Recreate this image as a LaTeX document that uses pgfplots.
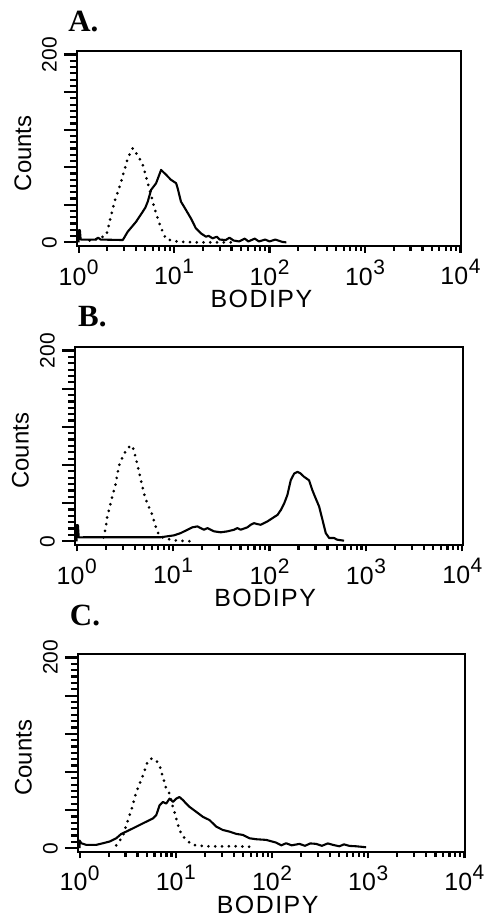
\documentclass[border=0pt]{standalone}
\usepackage{pgfplots}
\pgfplotsset{compat=1.18}
\usepackage{fontspec}
\setmainfont{Liberation Sans}
\newfontfamily\lettf{Liberation Serif}

% decade tick label, text font
\newcommand\pw[1]{10\hspace{0.3pt}\raisebox{5.5pt}{\fontsize{10.5}{10.5}\selectfont#1}}

\pgfplotsset{
  every axis/.append style={scale only axis, anchor=north west,
    xmin=0.955, xmax=10233, ymin=-4, ymax=204, clip=false,
    axis line style={line width=1.1pt},
    tick align=outside, tick style={line width=1.1pt, black}},
  facsy/.style={xtick=\empty, ytick={0,40,...,200}, yticklabels={0,,,,,200},
    minor y tick num=5, ytick pos=left, major tick length=6.5pt, minor tick length=3.5pt,
    yticklabel style={rotate=90, anchor=south, font=\fontsize{10.5}{10.5}\selectfont},
    ylabel={Counts},
    ylabel style={font=\fontsize{12}{12}\selectfont, at={(rel axis cs:-0.14,0.475)}, anchor=center}},
  facsx/.style={ytick=\empty, xtick={1,10,100,1000,10000},
    xticklabels={\pw0,\pw1,\pw2,\pw3,\pw4},
    minor xtick={2,3,4,5,6,7,8,9,20,30,40,50,60,70,80,90,200,300,400,500,600,700,800,900,2000,3000,4000,5000,6000,7000,8000,9000},
    xtick pos=left, major tick length=3.2pt, minor tick length=2.4pt,
    xticklabel style={font=\fontsize{12.5}{12.5}\selectfont},
    xlabel={\addfontfeature{LetterSpace=6}BODIPY},
    xlabel style={font=\fontsize{12.5}{12.5}\selectfont, at={(rel axis cs:0.49,-0.265)}, anchor=center}},
  sol/.style={black, line width=1.05pt, line join=round},
  dot/.style={black, line width=1.5pt, line cap=round, dash pattern=on 0pt off 3.4pt},
}
\tikzset{lett/.style={anchor=base west, inner sep=0pt, font={\lettf\bfseries\fontsize{15.5}{15.5}\selectfont}}}

\begin{document}
\begin{tikzpicture}
\path (0,0) rectangle (241pt,-460pt);

% ---------- A ----------
\begin{semilogxaxis}[facsy, at={(38.5pt,-25.5pt)}, width=193pt, height=98pt]
\end{semilogxaxis}
\begin{semilogxaxis}[facsx, at={(38.5pt,-25.5pt)}, width=193pt, height=98pt,
  xlabel style={at={(rel axis cs:0.48,-0.27)}}]
\node[lett] at (rel axis cs:-0.023,1.097) {A.};
\addplot[sol] coordinates {
  (1,0) (1,13) (1.03,13) (1.05,3) (1.5,3) (1.6,5) (1.7,3) (2.9,2.5)
  (3.27,11.4) (4.0,22) (4.7,32.8) (5.0,37) (5.3,43.4) (5.74,55.9) (6.48,63)
  (7.31,77.2) (8.24,72) (9.29,66.6) (10.5,63) (10.9,57.6) (11.8,43.4)
  (13.3,34.6) (15.0,25.6) (16.9,15) (19.1,9.6) (21.6,6) (23,7) (25.3,4.3)
  (28,6) (30,3) (34.8,2.5) (38,5) (42,2) (48,1) (55,4) (60,1) (70,4)
  (77.6,1) (90,3) (100,1) (115,3) (136,0.5) (150,0) };
\addplot[dot] coordinates {
  (1.3,2) (1.59,3.6) (1.95,7.8) (2.38,43.4) (2.58,54) (2.79,64.8)
  (3.27,89.6) (3.69,100.3) (4.33,89.6) (4.70,82.6) (5.09,70) (5.74,50.6)
  (6.22,36.3) (7.31,15) (8.24,3.6) (10.9,0.7) (18,0) (40,0) };
\end{semilogxaxis}

% ---------- B ----------
\begin{semilogxaxis}[facsy, at={(37.5pt,-174pt)}, width=195pt, height=99.5pt]
\end{semilogxaxis}
\begin{semilogxaxis}[facsx, at={(37.5pt,-174pt)}, width=195pt, height=99.5pt]
\node[lett] at (rel axis cs:0.008,1.101) {B.};
\addplot[sol] coordinates {
  (1,0) (1,17) (1.03,17) (1.05,4) (1.19,4.2) (7.44,4.2) (8.72,5.2)
  (10.2,6.2) (12,8.6) (14.1,12.1) (15.8,14.6) (17.9,15.6) (19.3,13.8)
  (20.9,12.1) (22.7,13.8) (24.5,12.1) (26.6,10.4) (31.2,9.4) (36.6,10.4)
  (42.9,12.1) (46.4,13.8) (50.2,12.1) (58.9,14.6) (63.8,17.3) (69.1,19)
  (74.8,18) (81.1,17.3) (95.1,20.8) (107,24.2) (121,27.7) (131,32.8)
  (142,39.8) (153,48.4) (166,64) (180,71) (195,72.8) (211,71) (228,67.6)
  (257,64) (278,53.6) (301,45) (327,36.4) (354,22.5) (383,8.6) (415,3.4)
  (468,3.4) (500,1.7) (593,0.6) };
\addplot[dot] coordinates {
  (1.9,4) (2.0,13.8) (2.08,26) (2.34,46.8) (2.54,60.6) (2.75,79.6)
  (3.10,91.8) (3.49,98.8) (3.78,100.4) (4.09,88.4) (4.43,72.8) (4.99,50.2)
  (5.40,39.8) (6.09,27.7) (6.59,15.6) (7.14,6.2) (8.05,3.4) (10,1) (15,0) };
\end{semilogxaxis}

% ---------- C ----------
\begin{semilogxaxis}[facsy, at={(39pt,-328pt)}, width=194.5pt, height=99.5pt]
\end{semilogxaxis}
\begin{semilogxaxis}[facsx, at={(39pt,-328pt)}, width=194.5pt, height=99.5pt]
\node[lett] at (rel axis cs:-0.021,1.141) {C.};
\addplot[sol] coordinates {
  (1,0) (1,8) (1.04,5.2) (1.17,3.5) (1.49,3.5) (1.75,5.2) (2.05,7)
  (2.40,10.4) (2.71,15) (3.05,17.4) (3.58,20.8) (4.20,24.3) (4.93,27.8)
  (5.78,31.2) (6.26,34.7) (6.78,45.1) (7.34,48.5) (7.95,46.8) (8.61,52)
  (9.33,48.5) (10.1,52) (10.9,53.7) (11.9,50.3) (12.8,46.8) (13.9,43.3)
  (16.3,38.1) (19.1,32.9) (22.4,29.5) (26.3,22.6) (30.8,19.1) (36.1,17.4)
  (42.5,15) (49.8,13.9) (58.4,10.4) (68.4,9.4) (86.9,8.7) (110,5.9)
  (125,3) (140,5.2) (160,3) (193,4.5) (220,2.5) (250,5) (288,4.5)
  (330,2.5) (380,5) (429,3.5) (500,2) (560,4) (638,2.4) (750,2) (950,1) };
\addplot[dot] coordinates {
  (2.4,3) (2.8,12) (3.18,29.5) (3.44,39.9) (3.88,58.9) (4.20,67.6)
  (4.55,76.3) (5.13,91.9) (5.6,94) (6.26,91.9) (6.78,86.7) (7.34,74.5)
  (7.95,62.4) (8.61,57.2) (9.33,43.3) (10.1,31.2) (10.9,19.1) (11.9,12.2)
  (13.4,7) (15.0,3.5) (20.7,2) (30,2) (45,2) (60,1.5) };
\end{semilogxaxis}
\end{tikzpicture}
\end{document}
